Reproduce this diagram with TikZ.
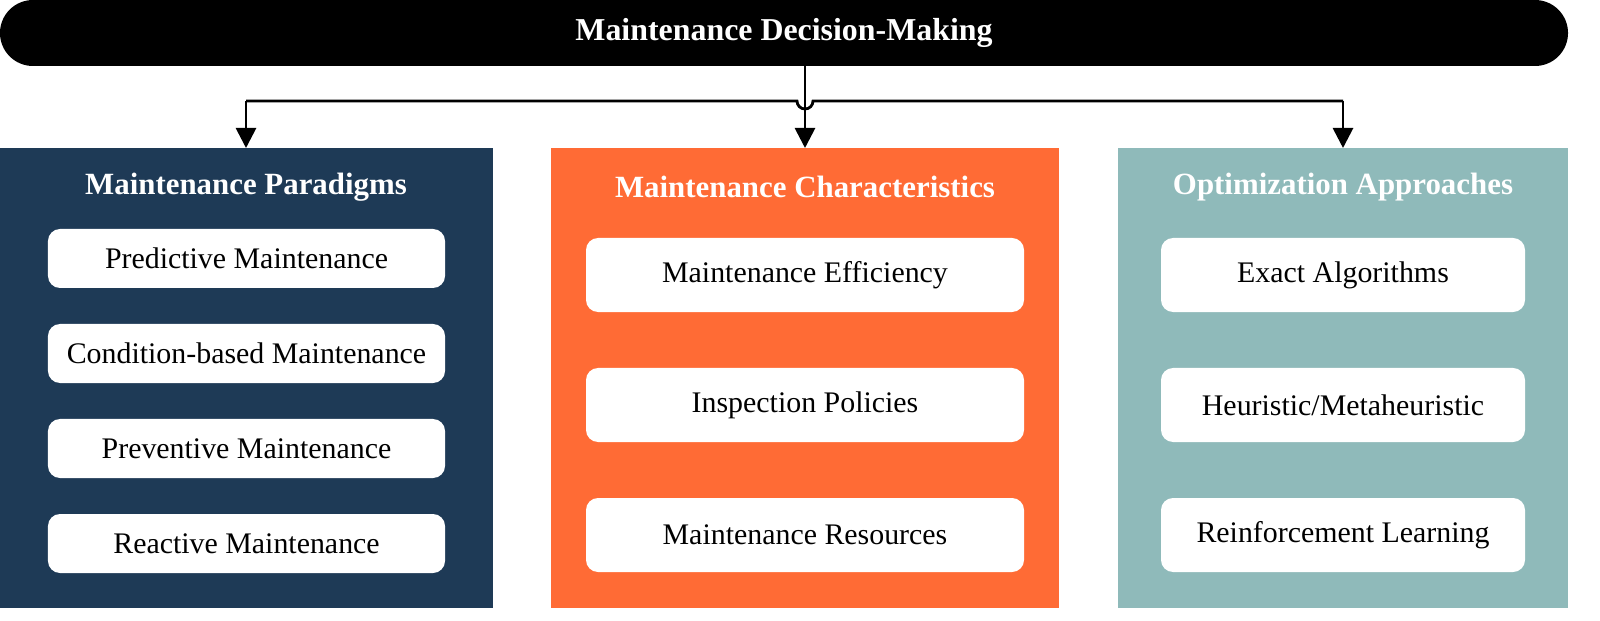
\documentclass[tikz,border=0pt]{standalone}
\usepackage{fontspec}
\setmainfont{Liberation Serif}
\usetikzlibrary{arrows.meta}
\definecolor{navy}{HTML}{1E3A56}
\definecolor{orng}{HTML}{FF6B35}
\definecolor{teal}{HTML}{8FBABA}
\begin{document}
\begin{tikzpicture}[x=0.5bp,y=-0.5bp,
  item/.style={fill=white,rounded corners=6bp,minimum height=#1,inner sep=0,font=\fontsize{15}{17}\selectfont},
  ttl/.style={text=white,font=\bfseries\fontsize{15.5}{17}\selectfont},
  arr/.style={line width=1.4bp,-{Triangle[width=10bp,length=10bp]}},
  ln/.style={line width=1.4bp}]
\useasboundingbox (0,0) rectangle (1600,621);
\node[fill=black,rounded corners=16.5bp,minimum width=784bp,minimum height=33bp,inner sep=0] (top) at (784,33) {};
\node[ttl,font=\bfseries\fontsize{16}{18}\selectfont] at (top) {Maintenance Decision-Making};
\fill[navy] (0,148) rectangle (493,608);
\fill[orng] (551,148) rectangle (1059,608);
\fill[teal] (1118,148) rectangle (1568,608);
\node[ttl] (t1) at (246,187) {Maintenance Paradigms};
\node[ttl] (t2) at (805,187) {Maintenance Characteristics};
\node[ttl] (t3) at (1343,187) {Optimization Approaches};
\coordinate (p1) at (246,148);
\coordinate (p2) at (805,148);
\coordinate (p3) at (1343,148);
\foreach \n/\y/\t in {a/258.5/Predictive Maintenance, b/353.5/Condition-based Maintenance, c/448.5/Preventive Maintenance, d/543.5/Reactive Maintenance}
  \node[item=29.5bp,minimum width=198.5bp] (\n) at (246.5,\y) {\t};
\foreach \n/\y/\t in {e/275/Maintenance Efficiency, f/405/Inspection Policies, g/535/Maintenance Resources}
  \node[item=37bp,minimum width=219bp] (\n) at (805,\y) {\t};
\foreach \n/\y/\t in {h/275/{Exact Algorithms}, i/405/{Heuristic/Metaheuristic}, j/535/{Reinforcement Learning}}
  \node[item=37bp,minimum width=182bp] (\n) at (1343,\y) {\t};
\coordinate (hl) at (246,101);
\coordinate (hr) at (1343,101);
\draw[arr] (top.south -| p2) -- (p2);
\draw[ln] (hl) -- (797,101) arc[start angle=180,end angle=0,radius=8] -- (hr);
\draw[arr] (hl) -- (p1);
\draw[arr] (hr) -- (p3);
\end{tikzpicture}
\end{document}
